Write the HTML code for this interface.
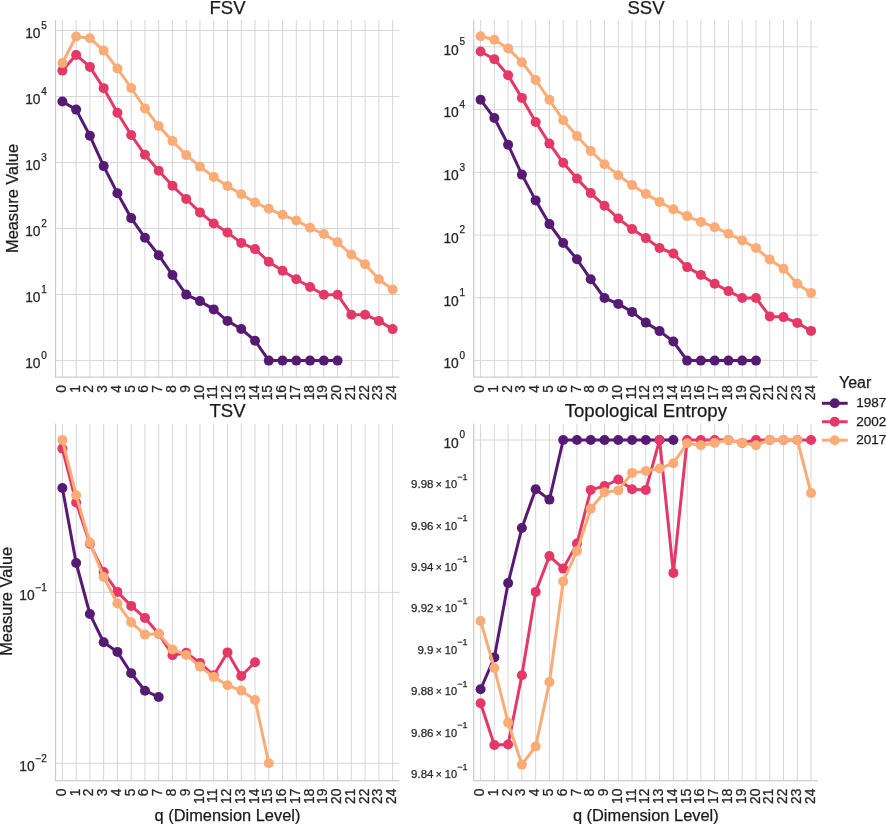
<!DOCTYPE html>
<html><head><meta charset="utf-8"><style>
html,body{margin:0;padding:0;background:#fff;overflow:hidden;width:886px;height:824px;}
svg{display:block;will-change:transform;}
text{font-family:"Liberation Sans",sans-serif;stroke-width:0.25px;}
</style></head><body>
<svg width="886" height="824" viewBox="0 0 886 824">
<rect width="886" height="824" fill="#fff"/>
<g stroke="#d6d6d6" stroke-width="1"><line x1="62.38" y1="20.0" x2="62.38" y2="377.0"/><line x1="76.14" y1="20.0" x2="76.14" y2="377.0"/><line x1="89.90" y1="20.0" x2="89.90" y2="377.0"/><line x1="103.66" y1="20.0" x2="103.66" y2="377.0"/><line x1="117.42" y1="20.0" x2="117.42" y2="377.0"/><line x1="131.18" y1="20.0" x2="131.18" y2="377.0"/><line x1="144.94" y1="20.0" x2="144.94" y2="377.0"/><line x1="158.70" y1="20.0" x2="158.70" y2="377.0"/><line x1="172.46" y1="20.0" x2="172.46" y2="377.0"/><line x1="186.22" y1="20.0" x2="186.22" y2="377.0"/><line x1="199.98" y1="20.0" x2="199.98" y2="377.0"/><line x1="213.74" y1="20.0" x2="213.74" y2="377.0"/><line x1="227.50" y1="20.0" x2="227.50" y2="377.0"/><line x1="241.26" y1="20.0" x2="241.26" y2="377.0"/><line x1="255.02" y1="20.0" x2="255.02" y2="377.0"/><line x1="268.78" y1="20.0" x2="268.78" y2="377.0"/><line x1="282.54" y1="20.0" x2="282.54" y2="377.0"/><line x1="296.30" y1="20.0" x2="296.30" y2="377.0"/><line x1="310.06" y1="20.0" x2="310.06" y2="377.0"/><line x1="323.82" y1="20.0" x2="323.82" y2="377.0"/><line x1="337.58" y1="20.0" x2="337.58" y2="377.0"/><line x1="351.34" y1="20.0" x2="351.34" y2="377.0"/><line x1="365.10" y1="20.0" x2="365.10" y2="377.0"/><line x1="378.86" y1="20.0" x2="378.86" y2="377.0"/><line x1="392.62" y1="20.0" x2="392.62" y2="377.0"/><line x1="55.5" y1="360.60" x2="399.5" y2="360.60"/><line x1="55.5" y1="294.56" x2="399.5" y2="294.56"/><line x1="55.5" y1="228.52" x2="399.5" y2="228.52"/><line x1="55.5" y1="162.48" x2="399.5" y2="162.48"/><line x1="55.5" y1="96.44" x2="399.5" y2="96.44"/><line x1="55.5" y1="30.40" x2="399.5" y2="30.40"/></g>
<g stroke="#cccccc" stroke-width="1.25"><line x1="55.5" y1="20.0" x2="55.5" y2="377.0"/><line x1="54.9" y1="377.0" x2="399.5" y2="377.0"/></g>
<polyline points="62.38,101.50 76.14,109.60 89.90,135.80 103.66,166.10 117.42,193.30 131.18,218.10 144.94,237.70 158.70,255.20 172.46,275.00 186.22,294.60 199.98,301.10 213.74,309.40 227.50,320.90 241.26,329.00 255.02,340.70 268.78,360.60 282.54,360.60 296.30,360.60 310.06,360.60 323.82,360.60 337.58,360.60" fill="none" stroke="#561a73" stroke-width="3.0" stroke-linejoin="round" stroke-linecap="round"/><g fill="#561a73"><circle cx="62.38" cy="101.50" r="5.0"/><circle cx="76.14" cy="109.60" r="5.0"/><circle cx="89.90" cy="135.80" r="5.0"/><circle cx="103.66" cy="166.10" r="5.0"/><circle cx="117.42" cy="193.30" r="5.0"/><circle cx="131.18" cy="218.10" r="5.0"/><circle cx="144.94" cy="237.70" r="5.0"/><circle cx="158.70" cy="255.20" r="5.0"/><circle cx="172.46" cy="275.00" r="5.0"/><circle cx="186.22" cy="294.60" r="5.0"/><circle cx="199.98" cy="301.10" r="5.0"/><circle cx="213.74" cy="309.40" r="5.0"/><circle cx="227.50" cy="320.90" r="5.0"/><circle cx="241.26" cy="329.00" r="5.0"/><circle cx="255.02" cy="340.70" r="5.0"/><circle cx="268.78" cy="360.60" r="5.0"/><circle cx="282.54" cy="360.60" r="5.0"/><circle cx="296.30" cy="360.60" r="5.0"/><circle cx="310.06" cy="360.60" r="5.0"/><circle cx="323.82" cy="360.60" r="5.0"/><circle cx="337.58" cy="360.60" r="5.0"/></g>
<polyline points="62.38,70.60 76.14,54.95 89.90,66.90 103.66,88.15 117.42,112.80 131.18,135.00 144.94,154.80 158.70,170.70 172.46,185.80 186.22,199.00 199.98,212.40 213.74,223.50 227.50,232.50 241.26,242.90 255.02,249.10 268.78,261.70 282.54,270.80 296.30,279.20 310.06,287.00 323.82,294.70 337.58,294.70 351.34,314.70 365.10,314.70 378.86,320.90 392.62,329.10" fill="none" stroke="#e43866" stroke-width="3.0" stroke-linejoin="round" stroke-linecap="round"/><g fill="#e43866"><circle cx="62.38" cy="70.60" r="5.0"/><circle cx="76.14" cy="54.95" r="5.0"/><circle cx="89.90" cy="66.90" r="5.0"/><circle cx="103.66" cy="88.15" r="5.0"/><circle cx="117.42" cy="112.80" r="5.0"/><circle cx="131.18" cy="135.00" r="5.0"/><circle cx="144.94" cy="154.80" r="5.0"/><circle cx="158.70" cy="170.70" r="5.0"/><circle cx="172.46" cy="185.80" r="5.0"/><circle cx="186.22" cy="199.00" r="5.0"/><circle cx="199.98" cy="212.40" r="5.0"/><circle cx="213.74" cy="223.50" r="5.0"/><circle cx="227.50" cy="232.50" r="5.0"/><circle cx="241.26" cy="242.90" r="5.0"/><circle cx="255.02" cy="249.10" r="5.0"/><circle cx="268.78" cy="261.70" r="5.0"/><circle cx="282.54" cy="270.80" r="5.0"/><circle cx="296.30" cy="279.20" r="5.0"/><circle cx="310.06" cy="287.00" r="5.0"/><circle cx="323.82" cy="294.70" r="5.0"/><circle cx="337.58" cy="294.70" r="5.0"/><circle cx="351.34" cy="314.70" r="5.0"/><circle cx="365.10" cy="314.70" r="5.0"/><circle cx="378.86" cy="320.90" r="5.0"/><circle cx="392.62" cy="329.10" r="5.0"/></g>
<polyline points="62.38,63.00 76.14,36.50 89.90,38.20 103.66,50.60 117.42,68.50 131.18,88.00 144.94,108.40 158.70,126.00 172.46,141.00 186.22,155.10 199.98,166.60 213.74,176.90 227.50,186.00 241.26,194.30 255.02,202.50 268.78,208.80 282.54,214.80 296.30,220.50 310.06,227.80 323.82,234.00 337.58,242.30 351.34,254.50 365.10,264.20 378.86,279.20 392.62,289.50" fill="none" stroke="#fbac76" stroke-width="3.0" stroke-linejoin="round" stroke-linecap="round"/><g fill="#fbac76"><circle cx="62.38" cy="63.00" r="5.0"/><circle cx="76.14" cy="36.50" r="5.0"/><circle cx="89.90" cy="38.20" r="5.0"/><circle cx="103.66" cy="50.60" r="5.0"/><circle cx="117.42" cy="68.50" r="5.0"/><circle cx="131.18" cy="88.00" r="5.0"/><circle cx="144.94" cy="108.40" r="5.0"/><circle cx="158.70" cy="126.00" r="5.0"/><circle cx="172.46" cy="141.00" r="5.0"/><circle cx="186.22" cy="155.10" r="5.0"/><circle cx="199.98" cy="166.60" r="5.0"/><circle cx="213.74" cy="176.90" r="5.0"/><circle cx="227.50" cy="186.00" r="5.0"/><circle cx="241.26" cy="194.30" r="5.0"/><circle cx="255.02" cy="202.50" r="5.0"/><circle cx="268.78" cy="208.80" r="5.0"/><circle cx="282.54" cy="214.80" r="5.0"/><circle cx="296.30" cy="220.50" r="5.0"/><circle cx="310.06" cy="227.80" r="5.0"/><circle cx="323.82" cy="234.00" r="5.0"/><circle cx="337.58" cy="242.30" r="5.0"/><circle cx="351.34" cy="254.50" r="5.0"/><circle cx="365.10" cy="264.20" r="5.0"/><circle cx="378.86" cy="279.20" r="5.0"/><circle cx="392.62" cy="289.50" r="5.0"/></g>
<g stroke="#d6d6d6" stroke-width="1"><line x1="480.58" y1="20.0" x2="480.58" y2="377.0"/><line x1="494.35" y1="20.0" x2="494.35" y2="377.0"/><line x1="508.12" y1="20.0" x2="508.12" y2="377.0"/><line x1="521.89" y1="20.0" x2="521.89" y2="377.0"/><line x1="535.66" y1="20.0" x2="535.66" y2="377.0"/><line x1="549.43" y1="20.0" x2="549.43" y2="377.0"/><line x1="563.20" y1="20.0" x2="563.20" y2="377.0"/><line x1="576.97" y1="20.0" x2="576.97" y2="377.0"/><line x1="590.74" y1="20.0" x2="590.74" y2="377.0"/><line x1="604.51" y1="20.0" x2="604.51" y2="377.0"/><line x1="618.28" y1="20.0" x2="618.28" y2="377.0"/><line x1="632.05" y1="20.0" x2="632.05" y2="377.0"/><line x1="645.82" y1="20.0" x2="645.82" y2="377.0"/><line x1="659.59" y1="20.0" x2="659.59" y2="377.0"/><line x1="673.36" y1="20.0" x2="673.36" y2="377.0"/><line x1="687.13" y1="20.0" x2="687.13" y2="377.0"/><line x1="700.90" y1="20.0" x2="700.90" y2="377.0"/><line x1="714.67" y1="20.0" x2="714.67" y2="377.0"/><line x1="728.44" y1="20.0" x2="728.44" y2="377.0"/><line x1="742.21" y1="20.0" x2="742.21" y2="377.0"/><line x1="755.98" y1="20.0" x2="755.98" y2="377.0"/><line x1="769.75" y1="20.0" x2="769.75" y2="377.0"/><line x1="783.52" y1="20.0" x2="783.52" y2="377.0"/><line x1="797.29" y1="20.0" x2="797.29" y2="377.0"/><line x1="811.06" y1="20.0" x2="811.06" y2="377.0"/><line x1="473.7" y1="360.60" x2="817.9" y2="360.60"/><line x1="473.7" y1="297.84" x2="817.9" y2="297.84"/><line x1="473.7" y1="235.08" x2="817.9" y2="235.08"/><line x1="473.7" y1="172.32" x2="817.9" y2="172.32"/><line x1="473.7" y1="109.56" x2="817.9" y2="109.56"/><line x1="473.7" y1="46.80" x2="817.9" y2="46.80"/></g>
<g stroke="#cccccc" stroke-width="1.25"><line x1="473.7" y1="20.0" x2="473.7" y2="377.0"/><line x1="473.09999999999997" y1="377.0" x2="817.9" y2="377.0"/></g>
<polyline points="480.58,99.80 494.35,118.00 508.12,144.80 521.89,174.60 535.66,200.40 549.43,224.10 563.20,243.00 576.97,259.30 590.74,279.30 604.51,298.00 618.28,303.90 632.05,311.90 645.82,322.60 659.59,331.10 673.36,341.50 687.13,360.60 700.90,360.60 714.67,360.60 728.44,360.60 742.21,360.60 755.98,360.60" fill="none" stroke="#561a73" stroke-width="3.0" stroke-linejoin="round" stroke-linecap="round"/><g fill="#561a73"><circle cx="480.58" cy="99.80" r="5.0"/><circle cx="494.35" cy="118.00" r="5.0"/><circle cx="508.12" cy="144.80" r="5.0"/><circle cx="521.89" cy="174.60" r="5.0"/><circle cx="535.66" cy="200.40" r="5.0"/><circle cx="549.43" cy="224.10" r="5.0"/><circle cx="563.20" cy="243.00" r="5.0"/><circle cx="576.97" cy="259.30" r="5.0"/><circle cx="590.74" cy="279.30" r="5.0"/><circle cx="604.51" cy="298.00" r="5.0"/><circle cx="618.28" cy="303.90" r="5.0"/><circle cx="632.05" cy="311.90" r="5.0"/><circle cx="645.82" cy="322.60" r="5.0"/><circle cx="659.59" cy="331.10" r="5.0"/><circle cx="673.36" cy="341.50" r="5.0"/><circle cx="687.13" cy="360.60" r="5.0"/><circle cx="700.90" cy="360.60" r="5.0"/><circle cx="714.67" cy="360.60" r="5.0"/><circle cx="728.44" cy="360.60" r="5.0"/><circle cx="742.21" cy="360.60" r="5.0"/><circle cx="755.98" cy="360.60" r="5.0"/></g>
<polyline points="480.58,51.50 494.35,59.30 508.12,75.30 521.89,97.90 535.66,122.00 549.43,143.60 563.20,162.80 576.97,178.60 590.74,193.10 604.51,205.80 618.28,218.50 632.05,229.10 645.82,238.10 659.59,248.00 673.36,253.50 687.13,267.10 700.90,274.90 714.67,283.70 728.44,291.10 742.21,298.00 755.98,298.00 769.75,316.40 783.52,317.10 797.29,322.90 811.06,330.90" fill="none" stroke="#e43866" stroke-width="3.0" stroke-linejoin="round" stroke-linecap="round"/><g fill="#e43866"><circle cx="480.58" cy="51.50" r="5.0"/><circle cx="494.35" cy="59.30" r="5.0"/><circle cx="508.12" cy="75.30" r="5.0"/><circle cx="521.89" cy="97.90" r="5.0"/><circle cx="535.66" cy="122.00" r="5.0"/><circle cx="549.43" cy="143.60" r="5.0"/><circle cx="563.20" cy="162.80" r="5.0"/><circle cx="576.97" cy="178.60" r="5.0"/><circle cx="590.74" cy="193.10" r="5.0"/><circle cx="604.51" cy="205.80" r="5.0"/><circle cx="618.28" cy="218.50" r="5.0"/><circle cx="632.05" cy="229.10" r="5.0"/><circle cx="645.82" cy="238.10" r="5.0"/><circle cx="659.59" cy="248.00" r="5.0"/><circle cx="673.36" cy="253.50" r="5.0"/><circle cx="687.13" cy="267.10" r="5.0"/><circle cx="700.90" cy="274.90" r="5.0"/><circle cx="714.67" cy="283.70" r="5.0"/><circle cx="728.44" cy="291.10" r="5.0"/><circle cx="742.21" cy="298.00" r="5.0"/><circle cx="755.98" cy="298.00" r="5.0"/><circle cx="769.75" cy="316.40" r="5.0"/><circle cx="783.52" cy="317.10" r="5.0"/><circle cx="797.29" cy="322.90" r="5.0"/><circle cx="811.06" cy="330.90" r="5.0"/></g>
<polyline points="480.58,36.30 494.35,39.70 508.12,48.40 521.89,62.20 535.66,80.00 549.43,99.80 563.20,120.30 576.97,136.10 590.74,151.00 604.51,164.20 618.28,175.20 632.05,185.10 645.82,193.90 659.59,201.90 673.36,209.30 687.13,216.10 700.90,221.90 714.67,227.20 728.44,233.70 742.21,240.40 755.98,248.00 769.75,259.50 783.52,268.70 797.29,283.70 811.06,292.90" fill="none" stroke="#fbac76" stroke-width="3.0" stroke-linejoin="round" stroke-linecap="round"/><g fill="#fbac76"><circle cx="480.58" cy="36.30" r="5.0"/><circle cx="494.35" cy="39.70" r="5.0"/><circle cx="508.12" cy="48.40" r="5.0"/><circle cx="521.89" cy="62.20" r="5.0"/><circle cx="535.66" cy="80.00" r="5.0"/><circle cx="549.43" cy="99.80" r="5.0"/><circle cx="563.20" cy="120.30" r="5.0"/><circle cx="576.97" cy="136.10" r="5.0"/><circle cx="590.74" cy="151.00" r="5.0"/><circle cx="604.51" cy="164.20" r="5.0"/><circle cx="618.28" cy="175.20" r="5.0"/><circle cx="632.05" cy="185.10" r="5.0"/><circle cx="645.82" cy="193.90" r="5.0"/><circle cx="659.59" cy="201.90" r="5.0"/><circle cx="673.36" cy="209.30" r="5.0"/><circle cx="687.13" cy="216.10" r="5.0"/><circle cx="700.90" cy="221.90" r="5.0"/><circle cx="714.67" cy="227.20" r="5.0"/><circle cx="728.44" cy="233.70" r="5.0"/><circle cx="742.21" cy="240.40" r="5.0"/><circle cx="755.98" cy="248.00" r="5.0"/><circle cx="769.75" cy="259.50" r="5.0"/><circle cx="783.52" cy="268.70" r="5.0"/><circle cx="797.29" cy="283.70" r="5.0"/><circle cx="811.06" cy="292.90" r="5.0"/></g>
<g stroke="#d6d6d6" stroke-width="1"><line x1="62.38" y1="423.6" x2="62.38" y2="780.6"/><line x1="76.14" y1="423.6" x2="76.14" y2="780.6"/><line x1="89.90" y1="423.6" x2="89.90" y2="780.6"/><line x1="103.66" y1="423.6" x2="103.66" y2="780.6"/><line x1="117.42" y1="423.6" x2="117.42" y2="780.6"/><line x1="131.18" y1="423.6" x2="131.18" y2="780.6"/><line x1="144.94" y1="423.6" x2="144.94" y2="780.6"/><line x1="158.70" y1="423.6" x2="158.70" y2="780.6"/><line x1="172.46" y1="423.6" x2="172.46" y2="780.6"/><line x1="186.22" y1="423.6" x2="186.22" y2="780.6"/><line x1="199.98" y1="423.6" x2="199.98" y2="780.6"/><line x1="213.74" y1="423.6" x2="213.74" y2="780.6"/><line x1="227.50" y1="423.6" x2="227.50" y2="780.6"/><line x1="241.26" y1="423.6" x2="241.26" y2="780.6"/><line x1="255.02" y1="423.6" x2="255.02" y2="780.6"/><line x1="268.78" y1="423.6" x2="268.78" y2="780.6"/><line x1="282.54" y1="423.6" x2="282.54" y2="780.6"/><line x1="296.30" y1="423.6" x2="296.30" y2="780.6"/><line x1="310.06" y1="423.6" x2="310.06" y2="780.6"/><line x1="323.82" y1="423.6" x2="323.82" y2="780.6"/><line x1="337.58" y1="423.6" x2="337.58" y2="780.6"/><line x1="351.34" y1="423.6" x2="351.34" y2="780.6"/><line x1="365.10" y1="423.6" x2="365.10" y2="780.6"/><line x1="378.86" y1="423.6" x2="378.86" y2="780.6"/><line x1="392.62" y1="423.6" x2="392.62" y2="780.6"/><line x1="55.5" y1="592.40" x2="399.5" y2="592.40"/><line x1="55.5" y1="763.30" x2="399.5" y2="763.30"/></g>
<g stroke="#cccccc" stroke-width="1.25"><line x1="55.5" y1="423.6" x2="55.5" y2="780.6"/><line x1="54.9" y1="780.6" x2="399.5" y2="780.6"/></g>
<polyline points="62.38,488.00 76.14,563.00 89.90,614.00 103.66,642.30 117.42,651.90 131.18,673.20 144.94,690.70 158.70,697.00" fill="none" stroke="#561a73" stroke-width="3.0" stroke-linejoin="round" stroke-linecap="round"/><g fill="#561a73"><circle cx="62.38" cy="488.00" r="5.0"/><circle cx="76.14" cy="563.00" r="5.0"/><circle cx="89.90" cy="614.00" r="5.0"/><circle cx="103.66" cy="642.30" r="5.0"/><circle cx="117.42" cy="651.90" r="5.0"/><circle cx="131.18" cy="673.20" r="5.0"/><circle cx="144.94" cy="690.70" r="5.0"/><circle cx="158.70" cy="697.00" r="5.0"/></g>
<polyline points="62.38,448.60 76.14,502.50 89.90,543.80 103.66,572.00 117.42,591.90 131.18,605.90 144.94,617.90 158.70,633.70 172.46,655.30 186.22,652.80 199.98,662.90 213.74,675.30 227.50,652.40 241.26,676.00 255.02,662.20" fill="none" stroke="#e43866" stroke-width="3.0" stroke-linejoin="round" stroke-linecap="round"/><g fill="#e43866"><circle cx="62.38" cy="448.60" r="5.0"/><circle cx="76.14" cy="502.50" r="5.0"/><circle cx="89.90" cy="543.80" r="5.0"/><circle cx="103.66" cy="572.00" r="5.0"/><circle cx="117.42" cy="591.90" r="5.0"/><circle cx="131.18" cy="605.90" r="5.0"/><circle cx="144.94" cy="617.90" r="5.0"/><circle cx="158.70" cy="633.70" r="5.0"/><circle cx="172.46" cy="655.30" r="5.0"/><circle cx="186.22" cy="652.80" r="5.0"/><circle cx="199.98" cy="662.90" r="5.0"/><circle cx="213.74" cy="675.30" r="5.0"/><circle cx="227.50" cy="652.40" r="5.0"/><circle cx="241.26" cy="676.00" r="5.0"/><circle cx="255.02" cy="662.20" r="5.0"/></g>
<polyline points="62.38,439.90 76.14,495.20 89.90,542.60 103.66,577.00 117.42,603.50 131.18,622.30 144.94,634.60 158.70,633.80 172.46,649.40 186.22,654.90 199.98,666.60 213.74,676.90 227.50,685.20 241.26,690.60 255.02,700.00 268.78,763.30" fill="none" stroke="#fbac76" stroke-width="3.0" stroke-linejoin="round" stroke-linecap="round"/><g fill="#fbac76"><circle cx="62.38" cy="439.90" r="5.0"/><circle cx="76.14" cy="495.20" r="5.0"/><circle cx="89.90" cy="542.60" r="5.0"/><circle cx="103.66" cy="577.00" r="5.0"/><circle cx="117.42" cy="603.50" r="5.0"/><circle cx="131.18" cy="622.30" r="5.0"/><circle cx="144.94" cy="634.60" r="5.0"/><circle cx="158.70" cy="633.80" r="5.0"/><circle cx="172.46" cy="649.40" r="5.0"/><circle cx="186.22" cy="654.90" r="5.0"/><circle cx="199.98" cy="666.60" r="5.0"/><circle cx="213.74" cy="676.90" r="5.0"/><circle cx="227.50" cy="685.20" r="5.0"/><circle cx="241.26" cy="690.60" r="5.0"/><circle cx="255.02" cy="700.00" r="5.0"/><circle cx="268.78" cy="763.30" r="5.0"/></g>
<g stroke="#d6d6d6" stroke-width="1"><line x1="480.58" y1="423.6" x2="480.58" y2="780.6"/><line x1="494.35" y1="423.6" x2="494.35" y2="780.6"/><line x1="508.12" y1="423.6" x2="508.12" y2="780.6"/><line x1="521.89" y1="423.6" x2="521.89" y2="780.6"/><line x1="535.66" y1="423.6" x2="535.66" y2="780.6"/><line x1="549.43" y1="423.6" x2="549.43" y2="780.6"/><line x1="563.20" y1="423.6" x2="563.20" y2="780.6"/><line x1="576.97" y1="423.6" x2="576.97" y2="780.6"/><line x1="590.74" y1="423.6" x2="590.74" y2="780.6"/><line x1="604.51" y1="423.6" x2="604.51" y2="780.6"/><line x1="618.28" y1="423.6" x2="618.28" y2="780.6"/><line x1="632.05" y1="423.6" x2="632.05" y2="780.6"/><line x1="645.82" y1="423.6" x2="645.82" y2="780.6"/><line x1="659.59" y1="423.6" x2="659.59" y2="780.6"/><line x1="673.36" y1="423.6" x2="673.36" y2="780.6"/><line x1="687.13" y1="423.6" x2="687.13" y2="780.6"/><line x1="700.90" y1="423.6" x2="700.90" y2="780.6"/><line x1="714.67" y1="423.6" x2="714.67" y2="780.6"/><line x1="728.44" y1="423.6" x2="728.44" y2="780.6"/><line x1="742.21" y1="423.6" x2="742.21" y2="780.6"/><line x1="755.98" y1="423.6" x2="755.98" y2="780.6"/><line x1="769.75" y1="423.6" x2="769.75" y2="780.6"/><line x1="783.52" y1="423.6" x2="783.52" y2="780.6"/><line x1="797.29" y1="423.6" x2="797.29" y2="780.6"/><line x1="811.06" y1="423.6" x2="811.06" y2="780.6"/><line x1="473.7" y1="440.00" x2="817.9" y2="440.00"/></g>
<g stroke="#cccccc" stroke-width="1.25"><line x1="473.7" y1="423.6" x2="473.7" y2="780.6"/><line x1="473.09999999999997" y1="780.6" x2="817.9" y2="780.6"/></g>
<polyline points="480.58,689.30 494.35,657.50 508.12,583.10 521.89,528.00 535.66,489.20 549.43,499.60 563.20,440.00 576.97,440.00 590.74,440.00 604.51,440.00 618.28,440.00 632.05,440.00 645.82,440.00 659.59,440.00 673.36,440.00" fill="none" stroke="#561a73" stroke-width="3.0" stroke-linejoin="round" stroke-linecap="round"/><g fill="#561a73"><circle cx="480.58" cy="689.30" r="5.0"/><circle cx="494.35" cy="657.50" r="5.0"/><circle cx="508.12" cy="583.10" r="5.0"/><circle cx="521.89" cy="528.00" r="5.0"/><circle cx="535.66" cy="489.20" r="5.0"/><circle cx="549.43" cy="499.60" r="5.0"/><circle cx="563.20" cy="440.00" r="5.0"/><circle cx="576.97" cy="440.00" r="5.0"/><circle cx="590.74" cy="440.00" r="5.0"/><circle cx="604.51" cy="440.00" r="5.0"/><circle cx="618.28" cy="440.00" r="5.0"/><circle cx="632.05" cy="440.00" r="5.0"/><circle cx="645.82" cy="440.00" r="5.0"/><circle cx="659.59" cy="440.00" r="5.0"/><circle cx="673.36" cy="440.00" r="5.0"/></g>
<polyline points="480.58,703.20 494.35,745.00 508.12,744.50 521.89,675.30 535.66,591.90 549.43,556.00 563.20,568.60 576.97,543.60 590.74,489.90 604.51,486.00 618.28,479.50 632.05,489.20 645.82,489.90 659.59,440.00 673.36,572.90 687.13,440.00 700.90,440.00 714.67,440.00 728.44,440.00 742.21,442.90 755.98,440.00 769.75,440.00 783.52,440.00 797.29,440.00 811.06,440.00" fill="none" stroke="#e43866" stroke-width="3.0" stroke-linejoin="round" stroke-linecap="round"/><g fill="#e43866"><circle cx="480.58" cy="703.20" r="5.0"/><circle cx="494.35" cy="745.00" r="5.0"/><circle cx="508.12" cy="744.50" r="5.0"/><circle cx="521.89" cy="675.30" r="5.0"/><circle cx="535.66" cy="591.90" r="5.0"/><circle cx="549.43" cy="556.00" r="5.0"/><circle cx="563.20" cy="568.60" r="5.0"/><circle cx="576.97" cy="543.60" r="5.0"/><circle cx="590.74" cy="489.90" r="5.0"/><circle cx="604.51" cy="486.00" r="5.0"/><circle cx="618.28" cy="479.50" r="5.0"/><circle cx="632.05" cy="489.20" r="5.0"/><circle cx="645.82" cy="489.90" r="5.0"/><circle cx="659.59" cy="440.00" r="5.0"/><circle cx="673.36" cy="572.90" r="5.0"/><circle cx="687.13" cy="440.00" r="5.0"/><circle cx="700.90" cy="440.00" r="5.0"/><circle cx="714.67" cy="440.00" r="5.0"/><circle cx="728.44" cy="440.00" r="5.0"/><circle cx="742.21" cy="442.90" r="5.0"/><circle cx="755.98" cy="440.00" r="5.0"/><circle cx="769.75" cy="440.00" r="5.0"/><circle cx="783.52" cy="440.00" r="5.0"/><circle cx="797.29" cy="440.00" r="5.0"/><circle cx="811.06" cy="440.00" r="5.0"/></g>
<polyline points="480.58,621.00 494.35,668.00 508.12,722.60 521.89,764.60 535.66,746.40 549.43,682.10 563.20,581.40 576.97,551.00 590.74,508.80 604.51,492.30 618.28,490.40 632.05,472.90 645.82,471.00 659.59,468.50 673.36,463.20 687.13,443.30 700.90,445.20 714.67,442.90 728.44,440.00 742.21,442.90 755.98,445.20 769.75,440.00 783.52,440.00 797.29,440.00 811.06,493.00" fill="none" stroke="#fbac76" stroke-width="3.0" stroke-linejoin="round" stroke-linecap="round"/><g fill="#fbac76"><circle cx="480.58" cy="621.00" r="5.0"/><circle cx="494.35" cy="668.00" r="5.0"/><circle cx="508.12" cy="722.60" r="5.0"/><circle cx="521.89" cy="764.60" r="5.0"/><circle cx="535.66" cy="746.40" r="5.0"/><circle cx="549.43" cy="682.10" r="5.0"/><circle cx="563.20" cy="581.40" r="5.0"/><circle cx="576.97" cy="551.00" r="5.0"/><circle cx="590.74" cy="508.80" r="5.0"/><circle cx="604.51" cy="492.30" r="5.0"/><circle cx="618.28" cy="490.40" r="5.0"/><circle cx="632.05" cy="472.90" r="5.0"/><circle cx="645.82" cy="471.00" r="5.0"/><circle cx="659.59" cy="468.50" r="5.0"/><circle cx="673.36" cy="463.20" r="5.0"/><circle cx="687.13" cy="443.30" r="5.0"/><circle cx="700.90" cy="445.20" r="5.0"/><circle cx="714.67" cy="442.90" r="5.0"/><circle cx="728.44" cy="440.00" r="5.0"/><circle cx="742.21" cy="442.90" r="5.0"/><circle cx="755.98" cy="445.20" r="5.0"/><circle cx="769.75" cy="440.00" r="5.0"/><circle cx="783.52" cy="440.00" r="5.0"/><circle cx="797.29" cy="440.00" r="5.0"/><circle cx="811.06" cy="493.00" r="5.0"/></g>
<g fill="#262626" stroke="#262626">
<g font-size="13.8" text-anchor="end"><text transform="translate(65.93,385.0) rotate(-90)">0</text><text transform="translate(79.69,385.0) rotate(-90)">1</text><text transform="translate(93.45,385.0) rotate(-90)">2</text><text transform="translate(107.21,385.0) rotate(-90)">3</text><text transform="translate(120.97,385.0) rotate(-90)">4</text><text transform="translate(134.73,385.0) rotate(-90)">5</text><text transform="translate(148.49,385.0) rotate(-90)">6</text><text transform="translate(162.25,385.0) rotate(-90)">7</text><text transform="translate(176.01,385.0) rotate(-90)">8</text><text transform="translate(189.77,385.0) rotate(-90)">9</text><text transform="translate(203.53,385.0) rotate(-90)">10</text><text transform="translate(217.29,385.0) rotate(-90)">11</text><text transform="translate(231.05,385.0) rotate(-90)">12</text><text transform="translate(244.81,385.0) rotate(-90)">13</text><text transform="translate(258.57,385.0) rotate(-90)">14</text><text transform="translate(272.33,385.0) rotate(-90)">15</text><text transform="translate(286.09,385.0) rotate(-90)">16</text><text transform="translate(299.85,385.0) rotate(-90)">17</text><text transform="translate(313.61,385.0) rotate(-90)">18</text><text transform="translate(327.37,385.0) rotate(-90)">19</text><text transform="translate(341.13,385.0) rotate(-90)">20</text><text transform="translate(354.89,385.0) rotate(-90)">21</text><text transform="translate(368.65,385.0) rotate(-90)">22</text><text transform="translate(382.41,385.0) rotate(-90)">23</text><text transform="translate(396.17,385.0) rotate(-90)">24</text></g>
<g font-size="13.8" text-anchor="end"><text transform="translate(484.13,385.0) rotate(-90)">0</text><text transform="translate(497.90,385.0) rotate(-90)">1</text><text transform="translate(511.67,385.0) rotate(-90)">2</text><text transform="translate(525.44,385.0) rotate(-90)">3</text><text transform="translate(539.21,385.0) rotate(-90)">4</text><text transform="translate(552.98,385.0) rotate(-90)">5</text><text transform="translate(566.75,385.0) rotate(-90)">6</text><text transform="translate(580.52,385.0) rotate(-90)">7</text><text transform="translate(594.29,385.0) rotate(-90)">8</text><text transform="translate(608.06,385.0) rotate(-90)">9</text><text transform="translate(621.83,385.0) rotate(-90)">10</text><text transform="translate(635.60,385.0) rotate(-90)">11</text><text transform="translate(649.37,385.0) rotate(-90)">12</text><text transform="translate(663.14,385.0) rotate(-90)">13</text><text transform="translate(676.91,385.0) rotate(-90)">14</text><text transform="translate(690.68,385.0) rotate(-90)">15</text><text transform="translate(704.45,385.0) rotate(-90)">16</text><text transform="translate(718.22,385.0) rotate(-90)">17</text><text transform="translate(731.99,385.0) rotate(-90)">18</text><text transform="translate(745.76,385.0) rotate(-90)">19</text><text transform="translate(759.53,385.0) rotate(-90)">20</text><text transform="translate(773.30,385.0) rotate(-90)">21</text><text transform="translate(787.07,385.0) rotate(-90)">22</text><text transform="translate(800.84,385.0) rotate(-90)">23</text><text transform="translate(814.61,385.0) rotate(-90)">24</text></g>
<g font-size="13.8" text-anchor="end"><text transform="translate(65.93,788.6) rotate(-90)">0</text><text transform="translate(79.69,788.6) rotate(-90)">1</text><text transform="translate(93.45,788.6) rotate(-90)">2</text><text transform="translate(107.21,788.6) rotate(-90)">3</text><text transform="translate(120.97,788.6) rotate(-90)">4</text><text transform="translate(134.73,788.6) rotate(-90)">5</text><text transform="translate(148.49,788.6) rotate(-90)">6</text><text transform="translate(162.25,788.6) rotate(-90)">7</text><text transform="translate(176.01,788.6) rotate(-90)">8</text><text transform="translate(189.77,788.6) rotate(-90)">9</text><text transform="translate(203.53,788.6) rotate(-90)">10</text><text transform="translate(217.29,788.6) rotate(-90)">11</text><text transform="translate(231.05,788.6) rotate(-90)">12</text><text transform="translate(244.81,788.6) rotate(-90)">13</text><text transform="translate(258.57,788.6) rotate(-90)">14</text><text transform="translate(272.33,788.6) rotate(-90)">15</text><text transform="translate(286.09,788.6) rotate(-90)">16</text><text transform="translate(299.85,788.6) rotate(-90)">17</text><text transform="translate(313.61,788.6) rotate(-90)">18</text><text transform="translate(327.37,788.6) rotate(-90)">19</text><text transform="translate(341.13,788.6) rotate(-90)">20</text><text transform="translate(354.89,788.6) rotate(-90)">21</text><text transform="translate(368.65,788.6) rotate(-90)">22</text><text transform="translate(382.41,788.6) rotate(-90)">23</text><text transform="translate(396.17,788.6) rotate(-90)">24</text></g>
<g font-size="13.8" text-anchor="end"><text transform="translate(484.13,788.6) rotate(-90)">0</text><text transform="translate(497.90,788.6) rotate(-90)">1</text><text transform="translate(511.67,788.6) rotate(-90)">2</text><text transform="translate(525.44,788.6) rotate(-90)">3</text><text transform="translate(539.21,788.6) rotate(-90)">4</text><text transform="translate(552.98,788.6) rotate(-90)">5</text><text transform="translate(566.75,788.6) rotate(-90)">6</text><text transform="translate(580.52,788.6) rotate(-90)">7</text><text transform="translate(594.29,788.6) rotate(-90)">8</text><text transform="translate(608.06,788.6) rotate(-90)">9</text><text transform="translate(621.83,788.6) rotate(-90)">10</text><text transform="translate(635.60,788.6) rotate(-90)">11</text><text transform="translate(649.37,788.6) rotate(-90)">12</text><text transform="translate(663.14,788.6) rotate(-90)">13</text><text transform="translate(676.91,788.6) rotate(-90)">14</text><text transform="translate(690.68,788.6) rotate(-90)">15</text><text transform="translate(704.45,788.6) rotate(-90)">16</text><text transform="translate(718.22,788.6) rotate(-90)">17</text><text transform="translate(731.99,788.6) rotate(-90)">18</text><text transform="translate(745.76,788.6) rotate(-90)">19</text><text transform="translate(759.53,788.6) rotate(-90)">20</text><text transform="translate(773.30,788.6) rotate(-90)">21</text><text transform="translate(787.07,788.6) rotate(-90)">22</text><text transform="translate(800.84,788.6) rotate(-90)">23</text><text transform="translate(814.61,788.6) rotate(-90)">24</text></g>
<text x="40.54" y="368.40" font-size="13.8" text-anchor="end">10</text><text x="41.24" y="359.00" font-size="10.0">0</text><text x="458.74" y="368.40" font-size="13.8" text-anchor="end">10</text><text x="459.44" y="359.00" font-size="10.0">0</text><text x="40.54" y="302.36" font-size="13.8" text-anchor="end">10</text><text x="41.24" y="292.96" font-size="10.0">1</text><text x="458.74" y="305.64" font-size="13.8" text-anchor="end">10</text><text x="459.44" y="296.24" font-size="10.0">1</text><text x="40.54" y="236.32" font-size="13.8" text-anchor="end">10</text><text x="41.24" y="226.92" font-size="10.0">2</text><text x="458.74" y="242.88" font-size="13.8" text-anchor="end">10</text><text x="459.44" y="233.48" font-size="10.0">2</text><text x="40.54" y="170.28" font-size="13.8" text-anchor="end">10</text><text x="41.24" y="160.88" font-size="10.0">3</text><text x="458.74" y="180.12" font-size="13.8" text-anchor="end">10</text><text x="459.44" y="170.72" font-size="10.0">3</text><text x="40.54" y="104.24" font-size="13.8" text-anchor="end">10</text><text x="41.24" y="94.84" font-size="10.0">4</text><text x="458.74" y="117.36" font-size="13.8" text-anchor="end">10</text><text x="459.44" y="107.96" font-size="10.0">4</text><text x="40.54" y="38.20" font-size="13.8" text-anchor="end">10</text><text x="41.24" y="28.80" font-size="10.0">5</text><text x="458.74" y="54.60" font-size="13.8" text-anchor="end">10</text><text x="459.44" y="45.20" font-size="10.0">5</text><text x="34.70" y="600.20" font-size="13.8" text-anchor="end">10</text><text x="35.40" y="590.80" font-size="10.0">−1</text><text x="34.70" y="771.10" font-size="13.8" text-anchor="end">10</text><text x="35.40" y="761.70" font-size="10.0">−2</text><text x="458.74" y="447.80" font-size="13.8" text-anchor="end">10</text><text x="459.44" y="438.40" font-size="10.0">0</text>
<g font-size="11.5"><text x="433.45" y="488.49" text-anchor="end">9.98</text><text x="438.8" y="488.49" text-anchor="middle" font-size="10.5">×</text><text x="457.1" y="488.49" text-anchor="end" font-size="11">10</text><text x="467.4" y="479.89" text-anchor="end" font-size="9.0">−1</text><text x="433.45" y="529.67" text-anchor="end">9.96</text><text x="438.8" y="529.67" text-anchor="middle" font-size="10.5">×</text><text x="457.1" y="529.67" text-anchor="end" font-size="11">10</text><text x="467.4" y="521.07" text-anchor="end" font-size="9.0">−1</text><text x="433.45" y="570.92" text-anchor="end">9.94</text><text x="438.8" y="570.92" text-anchor="middle" font-size="10.5">×</text><text x="457.1" y="570.92" text-anchor="end" font-size="11">10</text><text x="467.4" y="562.32" text-anchor="end" font-size="9.0">−1</text><text x="433.45" y="612.27" text-anchor="end">9.92</text><text x="438.8" y="612.27" text-anchor="middle" font-size="10.5">×</text><text x="457.1" y="612.27" text-anchor="end" font-size="11">10</text><text x="467.4" y="603.67" text-anchor="end" font-size="9.0">−1</text><text x="433.45" y="653.69" text-anchor="end">9.9</text><text x="438.8" y="653.69" text-anchor="middle" font-size="10.5">×</text><text x="457.1" y="653.69" text-anchor="end" font-size="11">10</text><text x="467.4" y="645.09" text-anchor="end" font-size="9.0">−1</text><text x="433.45" y="695.20" text-anchor="end">9.88</text><text x="438.8" y="695.20" text-anchor="middle" font-size="10.5">×</text><text x="457.1" y="695.20" text-anchor="end" font-size="11">10</text><text x="467.4" y="686.60" text-anchor="end" font-size="9.0">−1</text><text x="433.45" y="736.79" text-anchor="end">9.86</text><text x="438.8" y="736.79" text-anchor="middle" font-size="10.5">×</text><text x="457.1" y="736.79" text-anchor="end" font-size="11">10</text><text x="467.4" y="728.19" text-anchor="end" font-size="9.0">−1</text><text x="433.45" y="778.47" text-anchor="end">9.84</text><text x="438.8" y="778.47" text-anchor="middle" font-size="10.5">×</text><text x="457.1" y="778.47" text-anchor="end" font-size="11">10</text><text x="467.4" y="769.87" text-anchor="end" font-size="9.0">−1</text></g>
</g>
<g font-size="18.6" fill="#1a1a1a" stroke="#1a1a1a" text-anchor="middle">
<text x="227.60" y="13.7">FSV</text>
<text x="646.00" y="13.7">SSV</text>
<text x="227.60" y="417.3">TSV</text>
<text x="645.80" y="417.3">Topological Entropy</text>
</g>
<g font-size="16.4" fill="#1a1a1a" stroke="#1a1a1a" text-anchor="middle">
<text transform="translate(17.9,198.50) rotate(-90)">Measure Value</text>
<text transform="translate(11.5,601.3) rotate(-90)">Measure Value</text>
<text x="227.50" y="820.5">q (Dimension Level)</text>
<text x="645.80" y="820.5">q (Dimension Level)</text>
</g>
<text x="839" y="388.2" font-size="16" fill="#1a1a1a" stroke="#1a1a1a">Year</text>
<line x1="822" y1="403.30" x2="847.7" y2="403.30" stroke="#561a73" stroke-width="3.0"/>
<circle cx="834.7" cy="403.30" r="5.0" fill="#561a73"/>
<text x="856.2" y="407.30" font-size="13.5" fill="#1a1a1a" stroke="#1a1a1a">1987</text>
<line x1="822" y1="421.75" x2="847.7" y2="421.75" stroke="#e43866" stroke-width="3.0"/>
<circle cx="834.7" cy="421.75" r="5.0" fill="#e43866"/>
<text x="856.2" y="425.75" font-size="13.5" fill="#1a1a1a" stroke="#1a1a1a">2002</text>
<line x1="822" y1="440.20" x2="847.7" y2="440.20" stroke="#fbac76" stroke-width="3.0"/>
<circle cx="834.7" cy="440.20" r="5.0" fill="#fbac76"/>
<text x="856.2" y="444.20" font-size="13.5" fill="#1a1a1a" stroke="#1a1a1a">2017</text>
</svg></body></html>
